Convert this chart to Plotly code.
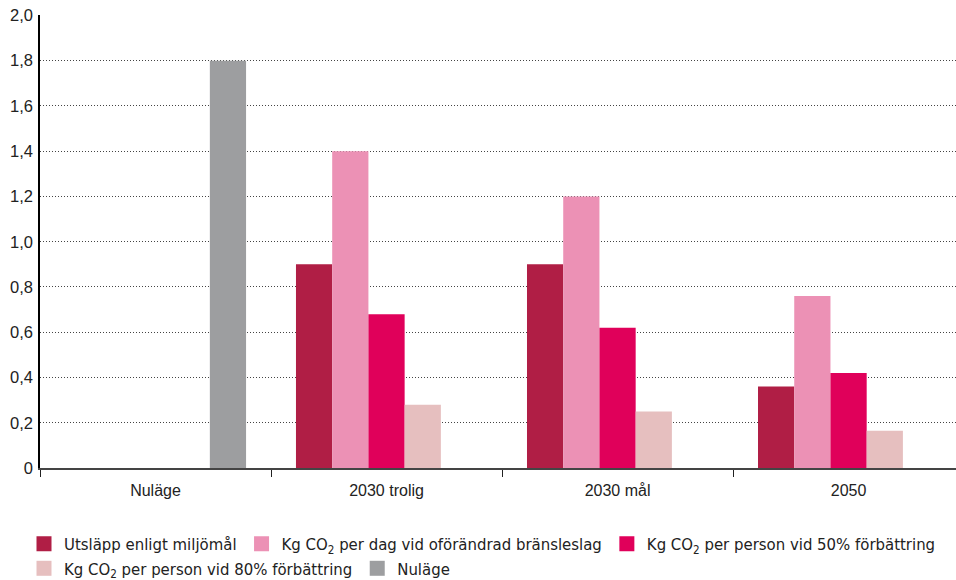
import plotly.graph_objects as go

categories = ["Nuläge", "2030 trolig", "2030 mål", "2050"]
series_names = [
    "Utsläpp enligt miljömål",
    "Kg CO<sub>2</sub> per dag vid oförändrad bränsleslag",
    "Kg CO<sub>2</sub> per person vid 50% förbättring",
    "Kg CO<sub>2</sub> per person vid 80% förbättring",
    "Nuläge",
]
utslapp = [None, 0.9, 0.9, 0.36]
per_dag = [None, 1.4, 1.2, 0.76]
forb50 = [None, 0.68, 0.62, 0.42]
forb80 = [None, 0.28, 0.25, 0.165]
nulage = [1.8, None, None, None]
colors = ["#B01E45", "#EC91B5", "#E0005A", "#E6BFBF", "#9D9EA0"]
legend_rows = ["legend", "legend", "legend", "legend2", "legend2"]

y_tickvals = [0, 0.2, 0.4, 0.6, 0.8, 1.0, 1.2, 1.4, 1.6, 1.8, 2.0]
y_ticktext = ["0", "0,2", "0,4", "0,6", "0,8", "1,0", "1,2", "1,4", "1,6", "1,8", "2,0"]

W, H = 956, 580

fig = go.Figure()
series_values = [utslapp, per_dag, forb50, forb80, nulage]
for name, vals, col in zip(series_names, series_values, colors):
    fig.add_trace(go.Bar(x=categories, y=vals, name=name, showlegend=False,
                         marker=dict(color=col, line=dict(width=0))))
# legend entries with larger square swatches
for name, col, lg in zip(series_names, colors, legend_rows):
    fig.add_trace(go.Scatter(x=[None], y=[None], mode="markers", name=name, legend=lg,
                             marker=dict(symbol="square", size=15, color=col, line=dict(width=0))))

legend_font = dict(family="DejaVu Sans Condensed, Liberation Sans Narrow, sans-serif", size=16.6, color="#222")
common_legend = dict(orientation="h", xref="container", yref="container", xanchor="left", yanchor="middle",
                     font=legend_font, traceorder="normal", itemwidth=30, bgcolor="rgba(0,0,0,0)")

fig.update_layout(
    width=W, height=H,
    margin=dict(l=40, r=0, t=15, b=580 - 468, autoexpand=False),
    plot_bgcolor="white", paper_bgcolor="white",
    barmode="group", bargap=0.216, bargroupgap=0,
    font=dict(family="Liberation Sans, Arial, sans-serif", color="#222", size=15),
    showlegend=True,
    legend=dict(x=24 / W, y=1 - 544 / H, **common_legend),
    legend2=dict(x=24 / W, y=1 - 568.5 / H, **common_legend),
)
fig.update_xaxes(
    range=[-0.5, 3.465], showline=True, linecolor="#444", linewidth=1.5,
    ticks="outside", tickson="boundaries", ticklen=7, tickcolor="#222", tickwidth=1,
    showgrid=False, tickfont=dict(size=16), automargin=False, ticklabelstandoff=7,
)
fig.update_yaxes(
    range=[0, 2.002], tickvals=y_tickvals, ticktext=y_ticktext,
    showline=True, linecolor="#000", linewidth=1.5, ticks="",
    showgrid=True, gridcolor="#444", griddash="1px,2px", gridwidth=1,
    zeroline=False, tickfont=dict(size=16.5), ticklabelstandoff=2, automargin=False,
    ticklabeloverflow="allow",
)
fig.write_html("out.html", config={"displayModeBar": False},
               post_script="document.body.style.margin='0';")
